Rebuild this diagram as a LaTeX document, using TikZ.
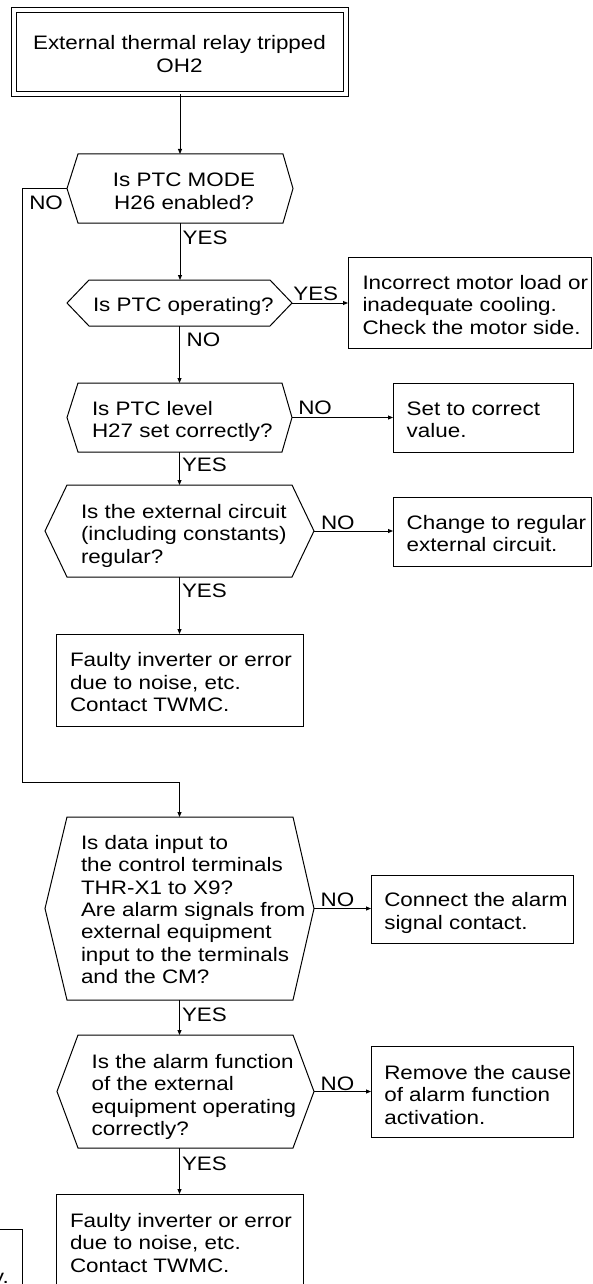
\documentclass[tikz,border=0pt]{standalone}
\usepackage{fontspec}
\setmainfont{Liberation Sans}[FakeStretch=1.15]
\usetikzlibrary{arrows.meta}
\newcommand\hexoutline[3]{\draw[outline] (#1.west) -- ([xshift=#2]#1.north west) -- ([xshift=-#3]#1.north east) -- (#1.east) -- ([xshift=-#3]#1.south east) -- ([xshift=#2]#1.south west) -- cycle;}
\newcommand\fs{\rule{0pt}{14.5pt}}
\begin{document}
\begin{tikzpicture}[x=1pt,y=-1pt,
  outline/.style={line width=1pt, line join=miter},
  hexnode/.style={rectangle, inner sep=0pt, outer sep=0pt},
  boxnode/.style={rectangle, draw, line width=1pt, inner sep=0pt, outer sep=0pt},
  txt/.style={inner sep=0pt, outer sep=0pt, font=\fontsize{19.5pt}{22.4pt}\selectfont, align=left, anchor=north west},
  ctxt/.style={txt, align=center, anchor=north},
  lbl/.style={inner sep=0pt, outer sep=0pt, font=\fontsize{19.5pt}{22.4pt}\selectfont, anchor=base west},
  arr/.style={line width=1pt, -{Triangle[length=5pt,width=4pt]}}
]
\useasboundingbox (0,0) rectangle (592,1284);
\clip (0,0) rectangle (592,1284);

% start
\node[boxnode, double, double distance=4pt, minimum width=332pt, minimum height=84.5pt] (start) at (180,52) {};
\node[ctxt] (starttxt) at (179.5,35.5) {\fs External thermal relay tripped\\OH2};

% decision 1
\node[hexnode, minimum width=226pt, minimum height=69pt] (h1) at (180,188.5) {};
\hexoutline{h1}{11pt}{10pt}
\node[ctxt] (h1txt) at (184,172.2) {\fs Is PTC MODE\\H26 enabled?};

% decision 2
\node[hexnode, minimum width=225pt, minimum height=46pt] (h2) at (179.5,303) {};
\hexoutline{h2}{22pt}{22pt}
\node[txt] (h2txt) at (93,297.2) {\fs Is PTC operating?};

\node[boxnode, minimum width=243.5pt, minimum height=91pt] (b1) at (469.75,302.5) {};
\node[txt] (b1txt) at (362.5,274.8) {\fs Incorrect motor load or\\inadequate cooling.\\Check the motor side.};

% decision 3
\node[hexnode, minimum width=225pt, minimum height=69pt] (h3) at (179.5,417.5) {};
\hexoutline{h3}{11pt}{10pt}
\node[txt] (h3txt) at (92,400.5) {\fs Is PTC level\\H27 set correctly?};

\node[boxnode, minimum width=180pt, minimum height=69pt] (b2) at (483,417.5) {};
\node[txt] (b2txt) at (406.7,400.5) {\fs Set to correct\\value.};

% decision 4
\node[hexnode, minimum width=269pt, minimum height=92pt] (h4) at (179.5,531) {};
\hexoutline{h4}{22pt}{22pt}
\node[txt] (h4txt) at (81,503.8) {\fs Is the external circuit\\(including constants)\\regular?};

\node[boxnode, minimum width=198.5pt, minimum height=69pt] (b3) at (492.25,531.5) {};
\node[txt] (b3txt) at (406.7,514.5) {\fs Change to regular\\external circuit.};

\node[boxnode, minimum width=247pt, minimum height=92pt] (b4) at (179.5,680) {};
\node[txt] (b4txt) at (70,652.2) {\fs Faulty inverter or error\\due to noise, etc.\\Contact TWMC.};

% decision 5
\node[hexnode, minimum width=269pt, minimum height=183pt] (h5) at (179.5,908.5) {};
\hexoutline{h5}{22pt}{21pt}
\node[txt] (h5txt) at (81,834.8) {\fs Is data input to\\the control terminals\\THR-X1 to X9?\\Are alarm signals from\\external equipment\\input to the terminals\\and the CM?};

\node[boxnode, minimum width=202pt, minimum height=68pt] (b5) at (472,909) {};
\node[txt] (b5txt) at (384.3,892.2) {\fs Connect the alarm\\signal contact.};

% decision 6
\node[hexnode, minimum width=257pt, minimum height=113pt] (h6) at (185.5,1091.5) {};
\hexoutline{h6}{21pt}{21pt}
\node[txt] (h6txt) at (91.7,1053.8) {\fs Is the alarm function\\of the external\\equipment operating\\correctly?};

\node[boxnode, minimum width=202pt, minimum height=91pt] (b6) at (472,1091.5) {};
\node[txt] (b6txt) at (384.3,1064.8) {\fs Remove the cause\\of alarm function\\activation.};

\node[boxnode, minimum width=247pt, minimum height=106pt] (b7) at (179.5,1247) {};
\node[txt] (b7txt) at (70,1212.8) {\fs Faulty inverter or error\\due to noise, etc.\\Contact TWMC.};

% cut-off box at bottom left
\node[boxnode, minimum width=42pt, minimum height=91pt] (frag) at (1,1274.5) {};
\node[lbl] (fragtxt) at (-7,1283) {y.};

% labels
\node[lbl] at (29.3,209.3) {NO};
\node[lbl] at (182.7,244) {YES};
\node[lbl] at (293.3,300.7) {YES};
\node[lbl] at (186.7,346.7) {NO};
\node[lbl] at (298.3,414.3) {NO};
\node[lbl] at (182,471.7) {YES};
\node[lbl] at (321,529.3) {NO};
\node[lbl] at (182,597.3) {YES};
\node[lbl] at (320.7,906) {NO};
\node[lbl] at (182,1021) {YES};
\node[lbl] at (320.7,1090) {NO};
\node[lbl] at (182,1170) {YES};

% connectors
\draw[arr] (start.south) -- (start.south |- h1.north);
\draw[arr] (h1.south) -- (h1.south |- h2.north);
\draw[arr] (h2.east) -- (h2.east -| b1.west);
\draw[arr] (h2.south) -- (h2.south |- h3.north);
\draw[arr] (h3.east) -- (h3.east -| b2.west);
\draw[arr] (h3.south) -- (h3.south |- h4.north);
\draw[arr] (h4.east) -- (h4.east -| b3.west);
\draw[arr] (h4.south) -- (h4.south |- b4.north);
\coordinate (loop) at (22.7,782.7);
\draw[arr] (h1.west) -| (loop) -| (h5.north);
\draw[arr] (h5.east) -- (h5.east -| b5.west);
\draw[arr] (h5.south) -- (h5.south |- h6.north);
\draw[arr] (h6.east) -- (h6.east -| b6.west);
\draw[arr] (b7.north |- h6.south) -- (b7.north);
\end{tikzpicture}
\end{document}
